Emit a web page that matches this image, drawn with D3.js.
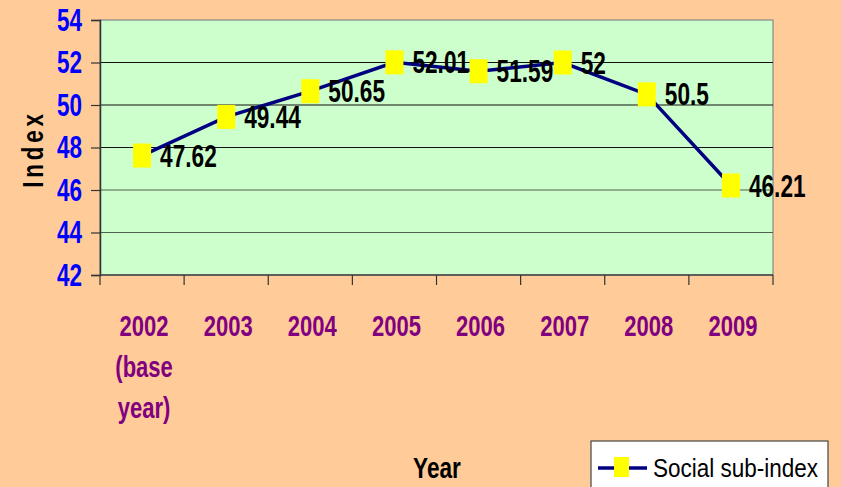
<!DOCTYPE html>
<html><head><meta charset="utf-8">
<script src="https://cdn.jsdelivr.net/npm/d3@7"></script>
<style>
html,body{margin:0;padding:0;background:#FFCC99;}
svg{display:block;}
text{font-family:'Liberation Sans',Arial,sans-serif;}
</style></head><body>
<svg id="c" width="841" height="487"></svg>
<script>
const years = ["2002","2003","2004","2005","2006","2007","2008","2009"];
const yearLabels = [["2002","(base","year)"],["2003"],["2004"],["2005"],["2006"],["2007"],["2008"],["2009"]];
const values = [47.62, 49.44, 50.65, 52.01, 51.59, 52, 50.5, 46.21];
const valueLabels = ["47.62","49.44","50.65","52.01","51.59","52","50.5","46.21"];
const yTicks = [42,44,46,48,50,52,54];
const seriesName = "Social sub-index";

const svg = d3.select("#c");
const L=100, R=773, T=20, B=275;
const x = d3.scaleBand().domain(years).range([L,R]);
const y = d3.scaleLinear().domain([42,54]).range([B,T]);

// condensed text helper
function ctext(parent, px, py, str, o){
  const g = parent.append("g").attr("transform",`translate(${px},${py})${o.rot?` rotate(${o.rot})`:""} scale(${o.sx||0.77},${o.sy||1.04})`);
  const t = g.append("text").attr("x",0).attr("y",0)
    .attr("font-size",o.fs||29).attr("font-weight",o.fw||"bold")
    .attr("fill",o.fill||"#000").attr("text-anchor",o.anchor||"start");
  if(o.ls) t.attr("letter-spacing",o.ls);
  t.text(str);
  return t;
}

svg.append("rect").attr("width",841).attr("height",487).attr("fill","#FFCC99");
svg.append("rect").attr("x",L).attr("y",T).attr("width",R-L).attr("height",B-T)
  .attr("fill","#CCFFCC").attr("stroke","#888").attr("stroke-width",1.2);

// gridlines
svg.append("g").selectAll("line").data(yTicks.filter(d=>d>42&&d<54)).join("line")
  .attr("x1",L).attr("x2",R).attr("y1",d=>y(d)).attr("y2",d=>y(d))
  .attr("stroke",d=>d<48?"#506050":"#111").attr("stroke-width",1);

// y axis
const yAxis = svg.append("g").attr("transform",`translate(${L},0)`)
  .call(d3.axisLeft(y).tickValues(yTicks).tickSize(9).tickFormat(""));
yAxis.select(".domain").attr("stroke","#333").attr("stroke-width",1.5);
yAxis.selectAll(".tick line").attr("stroke","#333").attr("stroke-width",1.2);
const yl = svg.append("g");
yTicks.forEach(v=>{
  ctext(yl, 82, y(v)+10.5, d3.format("d")(v), {fs:30, sx:0.75, fill:"#0000FF", anchor:"end"});
});

// x axis ticks (between categories)
const xAxis = svg.append("g").attr("transform",`translate(0,${B})`);
const bounds = years.map(d=>x(d)).concat([x(years[years.length-1])+x.bandwidth()]);
xAxis.append("line").attr("x1",L).attr("x2",R).attr("stroke","#444").attr("stroke-width",1.5);
xAxis.selectAll("line.t").data(bounds).join("line").attr("class","t")
  .attr("x1",d=>d).attr("x2",d=>d).attr("y1",0).attr("y2",10)
  .attr("stroke","#333").attr("stroke-width",1.2);

// x labels
const xlg = svg.append("g");
years.forEach((d,i)=>{
  yearLabels[i].forEach((s,j)=>{
    ctext(xlg, x(d)+x.bandwidth()/2+2, 336+j*41, s, {fs:29, sx:0.76, fill:"#800080", anchor:"middle"});
  });
});

// line
const cx = d=>x(d)+x.bandwidth()/2;
const pts = years.map((d,i)=>[cx(d), y(values[i])]);
svg.append("path").attr("d",d3.line()(pts)).attr("fill","none")
  .attr("stroke","#000080").attr("stroke-width",3.5);

// markers
svg.append("g").selectAll("rect").data(pts).join("rect")
  .attr("x",d=>d[0]-9).attr("y",d=>d[1]-12).attr("width",18).attr("height",24)
  .attr("fill","#FFFF00");

// data labels
const dl = svg.append("g");
pts.forEach((p,i)=>{
  ctext(dl, p[0]+18, p[1]+11, valueLabels[i], {fs:30, sx:0.755});
});

// axis titles
ctext(svg, 437, 477.5, "Year", {fs:29, sx:0.78, anchor:"middle"});
ctext(svg, 43, 149, "Index", {fs:29, sx:0.77, anchor:"middle", rot:-90, ls:5});

// legend
const lg = svg.append("g");
lg.append("rect").attr("x",591).attr("y",441).attr("width",237).attr("height",60)
  .attr("fill","#fff").attr("stroke","#444").attr("stroke-width",1.2);
lg.append("line").attr("x1",598).attr("x2",647).attr("y1",468).attr("y2",468)
  .attr("stroke","#000080").attr("stroke-width",3.5);
lg.append("rect").attr("x",614).attr("y",457).attr("width",15).attr("height",20).attr("fill","#FFFF00");
ctext(lg, 653, 477, seriesName, {fs:25, sx:0.9, fw:"normal"});
</script>
</body></html>
